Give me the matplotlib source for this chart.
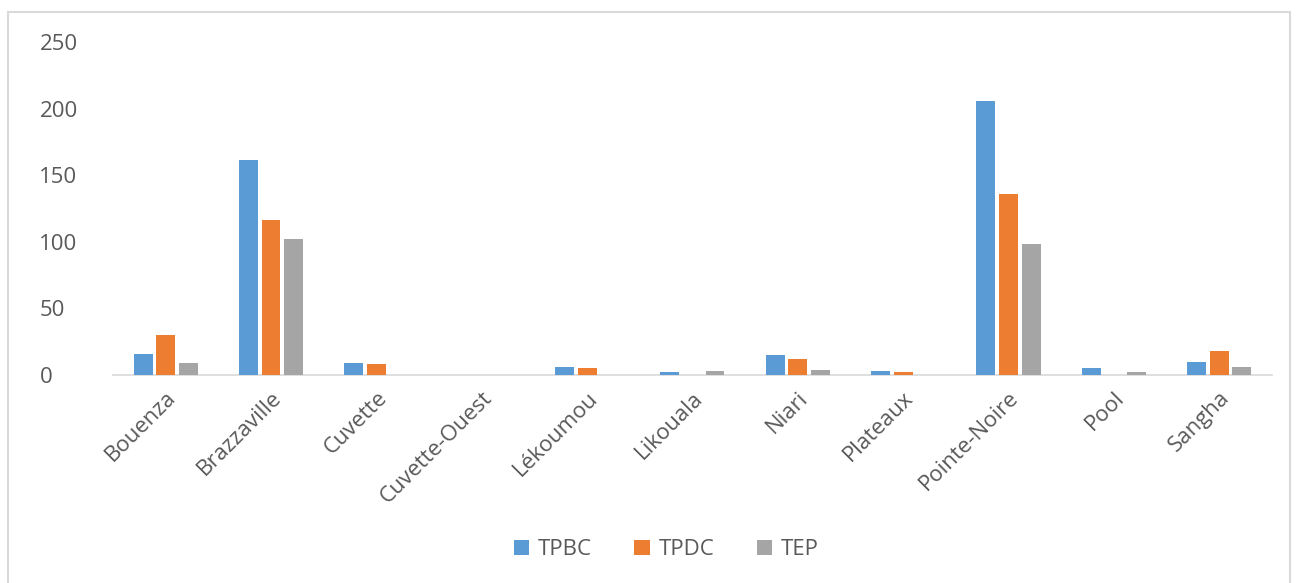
import matplotlib
matplotlib.use("Agg")
import matplotlib.pyplot as plt
import numpy as np
from matplotlib.patches import Rectangle

categories = ["Bouenza", "Brazzaville", "Cuvette", "Cuvette-Ouest", "Lékoumou",
              "Likouala", "Niari", "Plateaux", "Pointe-Noire", "Pool", "Sangha"]
tpbc = [16, 161, 9, 0, 6, 2, 15, 3, 206, 5, 10]
tpdc = [30, 116, 8, 0, 5, 0, 12, 2, 136, 0, 18]
tep = [9, 102, 0, 0, 0, 3, 4, 0, 98, 2, 6]
series_names = ["TPBC", "TPDC", "TEP"]
colors = ["#5B9BD5", "#ED7D31", "#A5A5A5"]
yticks = [0, 50, 100, 150, 200, 250]

plt.rcParams['font.family'] = ['Open Sans', 'DejaVu Sans']

fig = plt.figure(figsize=(12.99, 5.83), dpi=100)
ax = fig.add_axes([0.087, 0.357, 0.892, 0.571])

x = np.arange(len(categories))
w = 0.18
off = 0.215
for i, (vals, name, c) in enumerate(zip([tpbc, tpdc, tep], series_names, colors)):
    ax.bar(x + (i - 1) * off, vals, width=w, color=c, label=name, zorder=3)

ax.set_xlim(-0.5, len(categories) - 0.5)
ax.set_ylim(0, 250)
ax.set_yticks(yticks)
ax.set_xticks(x)
ax.set_xticklabels(categories, rotation=45, ha="right", rotation_mode="anchor",
                   fontsize=16, color="#595959")
ax.tick_params(axis="y", labelsize=16, labelcolor="#595959", length=0, pad=53)
ax.tick_params(axis="x", length=0, pad=9)
for s in ["top", "right", "left"]:
    ax.spines[s].set_visible(False)
ax.spines["bottom"].set_color("#D9D9D9")
ax.spines["bottom"].set_linewidth(1.2)
for lab in ax.get_yticklabels():
    lab.set_horizontalalignment("left")

leg = fig.legend(loc="center", bbox_to_anchor=(0.513, 0.057), ncol=3, frameon=False,
                 fontsize=16, handlelength=0.7, handleheight=0.7, columnspacing=1.9,
                 handletextpad=0.4)
for t in leg.get_texts():
    t.set_color("#595959")

fig.patches.append(Rectangle((8 / 1299, -0.01), (1290 - 8) / 1299, (583 - 12) / 583 + 0.01,
                             transform=fig.transFigure, fill=False,
                             edgecolor="#D9D9D9", linewidth=1.5))

fig.savefig("out.png", dpi=100)
